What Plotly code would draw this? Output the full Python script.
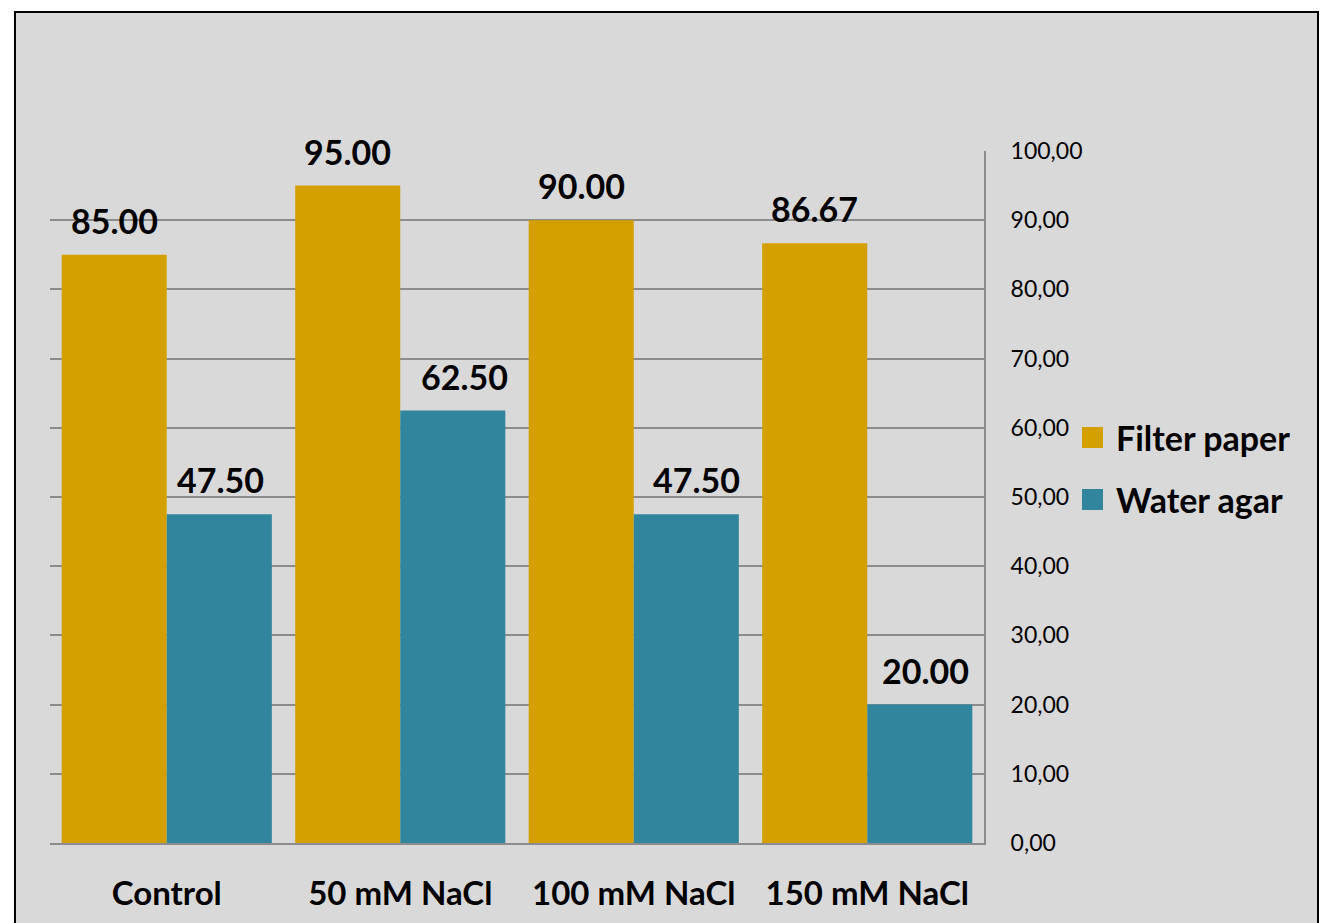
import plotly.graph_objects as go

categories = ["Control", "50 mM NaCl", "100 mM NaCl", "150 mM NaCl"]
filter_paper = [85.00, 95.00, 90.00, 86.67]
water_agar = [47.50, 62.50, 47.50, 20.00]
y_ticks = [0, 10, 20, 30, 40, 50, 60, 70, 80, 90, 100]
series_names = ["Filter paper", "Water agar"]

GOLD = "#d3a000"
TEAL = "#31869e"
BG = "#d9d9d9"
GRID = "#8c8c8c"
FONT = "Lato"

# small horizontal nudges (px) for the Water agar value labels
WATER_LABEL_NUDGE = [1, 12, 10, 6]

x_pos = list(range(len(categories)))
bargap = 0.1
half = (1 - bargap) / 4  # centre offset of each bar within a group

fig = go.Figure()
fig.add_trace(go.Bar(x=x_pos, y=filter_paper, name=series_names[0],
                     marker=dict(color=GOLD, line=dict(width=0)), showlegend=False))
fig.add_trace(go.Bar(x=x_pos, y=water_agar, name=series_names[1],
                     marker=dict(color=TEAL, line=dict(width=0)), showlegend=False))

annotations = []
for i, (fp, wa) in enumerate(zip(filter_paper, water_agar)):
    for xv, val, nudge in [(i - half, fp, 0), (i + half, wa, WATER_LABEL_NUDGE[i])]:
        annotations.append(dict(x=xv, y=val, xref="x", yref="y", text=f"{val:.2f}",
                                showarrow=False, yanchor="bottom", yshift=12,
                                xshift=nudge,
                                font=dict(family=FONT, size=34, color="black",
                                          weight="bold")))

shapes = [dict(type="rect", xref="paper", yref="paper",
               x0=-0.0375, x1=1.3576, y0=-0.13, y1=1.2009,
               fillcolor=BG, line=dict(color="black", width=2), layer="below")]

# legend: square swatch plus bold label for each series
legend_rows = [(series_names[0], GOLD, 0.5708, 0.6012),
               (series_names[1], TEAL, 0.4812, 0.5116)]
for name, col, y0, y1 in legend_rows:
    shapes.append(dict(type="rect", xref="paper", yref="paper",
                       x0=1.1049, x1=1.1274, y0=y0, y1=y1,
                       fillcolor=col, line=dict(width=0)))
    annotations.append(dict(x=1.1392, y=(y0 + y1) / 2, xref="paper", yref="paper",
                            text=name, showarrow=False, xanchor="left",
                            yanchor="middle",
                            font=dict(family=FONT, size=34, color="black",
                                      weight="bold")))

fig.update_layout(
    barmode="group",
    bargap=bargap,
    bargroupgap=0,
    width=1322, height=923,
    margin=dict(l=50, r=338, t=151, b=80, autoexpand=False),
    paper_bgcolor="white",
    plot_bgcolor="rgba(0,0,0,0)",
    separators=",.",
    showlegend=False,
    font=dict(family=FONT, color="black"),
    annotations=annotations,
    shapes=shapes,
    xaxis=dict(tickmode="array", tickvals=x_pos, ticktext=categories,
               range=[-0.5, len(categories) - 0.5], automargin=False,
               showgrid=False, zeroline=False, showline=True, linecolor=GRID,
               linewidth=2, ticks="", ticklabelstandoff=20,
               tickfont=dict(family=FONT, size=33, color="black", weight="bold")),
    yaxis=dict(side="right", range=[0, 100], tickvals=y_ticks, tickformat=".2f",
               automargin=False,
               showgrid=True, gridcolor=GRID, gridwidth=2, zeroline=False,
               showline=True, linecolor=GRID, linewidth=2, ticks="",
               ticklabelstandoff=20,
               tickfont=dict(family=FONT, size=23, color="black")),
)

fig.write_html("out.html")
